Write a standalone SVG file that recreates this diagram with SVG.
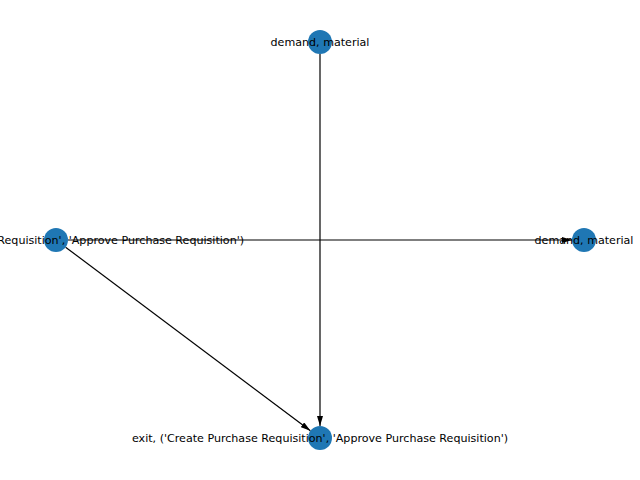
<svg xmlns="http://www.w3.org/2000/svg" width="640" height="480" viewBox="0 0 640 480">
<defs>
<marker id="arr" viewBox="0 0 10 6" refX="10" refY="3" markerWidth="10" markerHeight="6" markerUnits="userSpaceOnUse" orient="auto">
<path d="M0,0 L10,3 L0,6 Z" fill="#000"/>
</marker>
</defs>
<style>
.edge{stroke:#000;stroke-width:1.2;fill:none;marker-end:url(#arr)}
.node{fill:#1f77b4}
.lbl{font-family:"DejaVu Sans",sans-serif;font-size:11.1px;fill:#000;text-anchor:middle}
</style>
<rect width="640" height="480" fill="#fff"/>
<g id="connectors">
<line class="edge" x1="320" y1="54" x2="320" y2="426"/>
<line class="edge" x1="68" y1="240" x2="572" y2="240"/>
<line class="edge" x1="65.6" y1="247.2" x2="310.4" y2="430.8"/>
</g>
<g id="n-top"><circle class="node" cx="320" cy="42" r="12"/><text class="lbl" x="320" y="46">demand, material</text></g>
<g id="n-left"><circle class="node" cx="56" cy="240" r="12"/><text class="lbl" x="56" y="244">exit, ('Create Purchase Requisition', 'Approve Purchase Requisition')</text></g>
<g id="n-right"><circle class="node" cx="584" cy="240" r="12"/><text class="lbl" x="584" y="244">demand, material</text></g>
<g id="n-bottom"><circle class="node" cx="320" cy="438" r="12"/><text class="lbl" x="320" y="442">exit, ('Create Purchase Requisition', 'Approve Purchase Requisition')</text></g>
</svg>
